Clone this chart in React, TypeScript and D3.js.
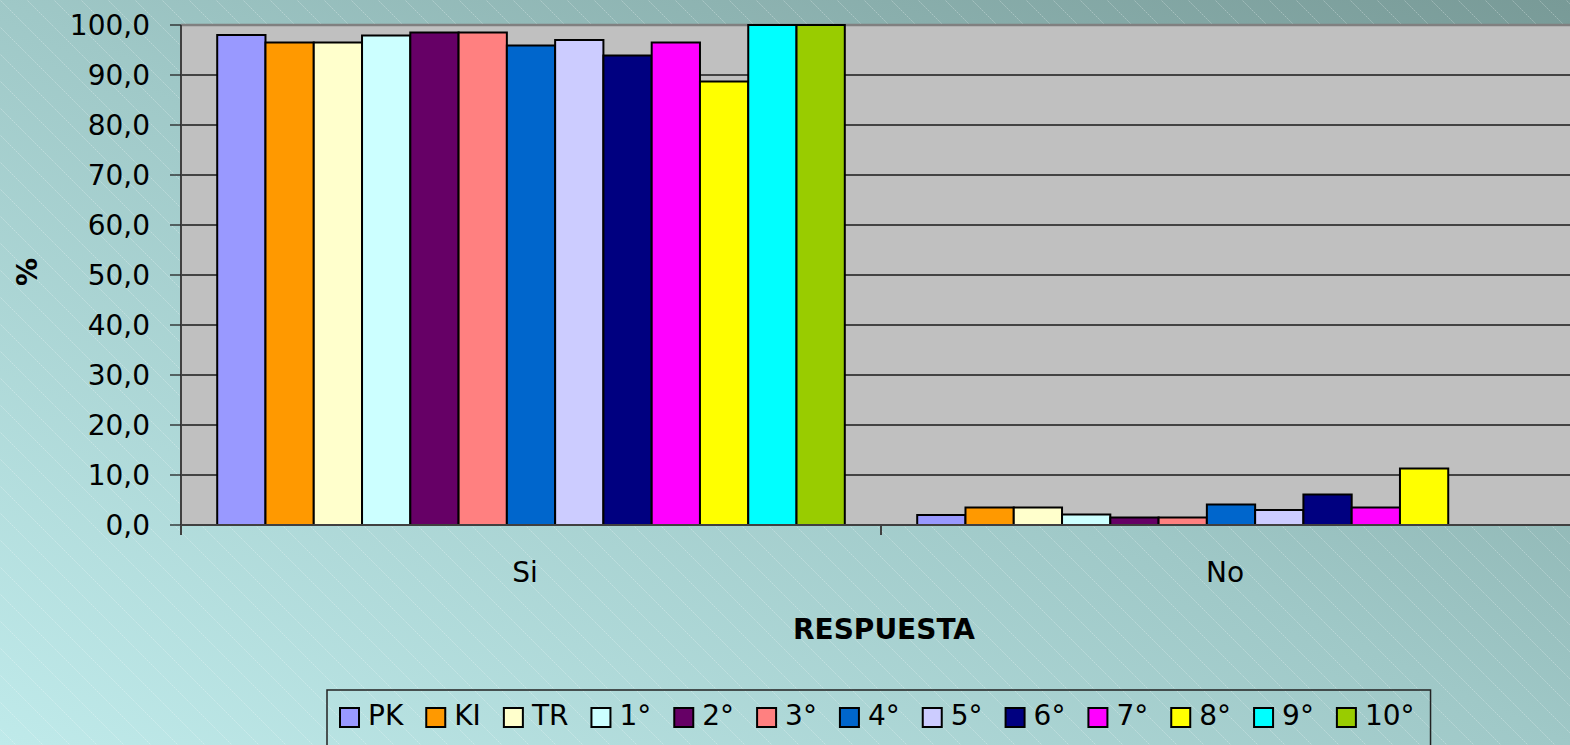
import React, { useEffect, useRef } from "react";
import * as d3 from "d3";

const categories = ["Si", "No"];
const seriesNames = ["PK", "KI", "TR", "1°", "2°", "3°", "4°", "5°", "6°", "7°", "8°", "9°", "10°"];
const seriesColors = ["#9999FF", "#FF9900", "#FFFFCC", "#CCFFFF", "#660066", "#FF8080", "#0066CC", "#CCCCFF", "#000080", "#FF00FF", "#FFFF00", "#00FFFF", "#99CC00"];
const siValues = [98.0, 96.5, 96.5, 97.9, 98.5, 98.5, 95.9, 97.0, 93.9, 96.5, 88.7, 100.0, 100.0];
const noValues = [2.0, 3.5, 3.5, 2.1, 1.5, 1.5, 4.1, 3.0, 6.1, 3.5, 11.3, 0.0, 0.0];
const yTicks = [0, 10, 20, 30, 40, 50, 60, 70, 80, 90, 100];
const yTitle = "%";
const xTitle = "RESPUESTA";

const W = 1570;
const H = 745;
const FONT = "'DejaVu Sans', Verdana, sans-serif";

export default function App() {
  const ref = useRef<SVGSVGElement | null>(null);

  useEffect(() => {
    const svg = d3.select(ref.current);
    svg.selectAll("*").remove();

    const margin = { left: 181, top: 25, right: -11, bottom: 220 };
    const plotW = 1400;
    const plotH = H - margin.top - margin.bottom;

    const defs = svg.append("defs");
    const grad = defs.append("linearGradient").attr("id", "bg").attr("x1", 0).attr("y1", 1).attr("x2", 1).attr("y2", 0);
    grad.append("stop").attr("offset", 0).attr("stop-color", "#bfeaea");
    grad.append("stop").attr("offset", 0.5).attr("stop-color", "#9fc8c7");
    grad.append("stop").attr("offset", 1).attr("stop-color", "#789a97");
    const pat = defs.append("pattern").attr("id", "stripes").attr("patternUnits", "userSpaceOnUse")
      .attr("width", 27).attr("height", 27);
    pat.append("path").attr("d", "M-1,-1 L28,28 M-28,0 L0,28 M0,-27 L28,1")
      .attr("stroke", "rgba(255,255,255,0.28)").attr("stroke-width", 1).attr("stroke-dasharray", "2,1");

    svg.append("rect").attr("width", W).attr("height", H).attr("fill", "url(#bg)");
    svg.append("rect").attr("width", W).attr("height", H).attr("fill", "url(#stripes)");

    const data = categories.map((c, ci) => ({ cat: c, vals: ci === 0 ? siValues : noValues }));

    const x0 = d3.scaleBand<string>().domain(categories).range([margin.left, margin.left + plotW]).paddingInner(0).paddingOuter(0);
    const x1 = d3.scaleBand<string>().domain(seriesNames).range([0, x0.bandwidth()]).paddingInner(0).paddingOuter(0.75);
    const y = d3.scaleLinear().domain([0, 100]).range([margin.top + plotH, margin.top]);

    // plot area
    svg.append("rect").attr("x", margin.left).attr("y", margin.top).attr("width", plotW).attr("height", plotH).attr("fill", "#c0c0c0");

    // gridlines
    svg.append("g").selectAll("line").data(yTicks.filter((t) => t > 0 && t < 100)).join("line")
      .attr("x1", margin.left).attr("x2", margin.left + plotW)
      .attr("y1", (d) => y(d)).attr("y2", (d) => y(d))
      .attr("stroke", "#1a1a1a").attr("stroke-width", 1.4);
    svg.append("line").attr("x1", margin.left).attr("x2", margin.left + plotW).attr("y1", y(100)).attr("y2", y(100))
      .attr("stroke", "#808080").attr("stroke-width", 2.5);

    // bars
    const g = svg.append("g");
    data.forEach((d) => {
      g.selectAll(null).data(d.vals.map((v, i) => ({ v, i })).filter((e) => e.v > 0)).join("rect")
        .attr("x", (e) => (x0(d.cat) as number) + (x1(seriesNames[e.i]) as number))
        .attr("y", (e) => y(e.v))
        .attr("width", x1.bandwidth())
        .attr("height", (e) => y(0) - y(e.v))
        .attr("fill", (e) => seriesColors[e.i])
        .attr("stroke", "#000").attr("stroke-width", 2);
    });

    // axes lines
    svg.append("line").attr("x1", margin.left).attr("x2", margin.left).attr("y1", margin.top).attr("y2", y(0) + 10)
      .attr("stroke", "#404040").attr("stroke-width", 2);
    svg.append("line").attr("x1", margin.left).attr("x2", margin.left + plotW).attr("y1", y(0)).attr("y2", y(0))
      .attr("stroke", "#404040").attr("stroke-width", 2);
    // y ticks
    svg.append("g").selectAll("line").data(yTicks).join("line")
      .attr("x1", margin.left - 11).attr("x2", margin.left).attr("y1", (d) => y(d)).attr("y2", (d) => y(d))
      .attr("stroke", "#222").attr("stroke-width", 1.3);
    // category ticks
    const catEdges = [margin.left, margin.left + x0.bandwidth(), margin.left + plotW];
    svg.append("g").selectAll("line").data(catEdges).join("line")
      .attr("x1", (d) => d).attr("x2", (d) => d).attr("y1", y(0)).attr("y2", y(0) + 10)
      .attr("stroke", "#404040").attr("stroke-width", 2);

    // y labels
    const fmt = (v: number) => v.toFixed(1).replace(".", ",");
    svg.append("g").selectAll("text").data(yTicks).join("text")
      .attr("x", 150).attr("y", (d) => y(d)).attr("dy", "0.36em")
      .attr("text-anchor", "end").attr("font-family", FONT).attr("font-size", 28).attr("fill", "#000")
      .text((d) => fmt(d));

    // category labels
    svg.append("g").selectAll("text").data(categories).join("text")
      .attr("x", (d) => (x0(d) as number) + x0.bandwidth() / 2 - 6).attr("y", 582)
      .attr("text-anchor", "middle").attr("font-family", FONT).attr("font-size", 28).attr("fill", "#000")
      .text((d) => d);

    // titles
    svg.append("text").attr("x", margin.left + plotW / 2 + 3).attr("y", 639)
      .attr("text-anchor", "middle").attr("font-family", FONT).attr("font-size", 28).attr("font-weight", "bold")
      .text(xTitle);
    svg.append("text").attr("transform", "translate(37,272) rotate(-90)")
      .attr("text-anchor", "middle").attr("font-family", FONT).attr("font-size", 28).attr("font-weight", "bold")
      .text(yTitle);

    // legend
    const lg = svg.append("g");
    const box = lg.append("rect").attr("x", 327).attr("y", 690).attr("height", 80).attr("fill", "none")
      .attr("stroke", "#222").attr("stroke-width", 1.5);
    let cx = 340;
    const sw = 19;
    seriesNames.forEach((name, i) => {
      lg.append("rect").attr("x", cx).attr("y", 708).attr("width", sw).attr("height", sw)
        .attr("fill", seriesColors[i]).attr("stroke", "#000").attr("stroke-width", 2);
      const t = lg.append("text").attr("x", cx + sw + 9).attr("y", 725)
        .attr("font-family", FONT).attr("font-size", 28).attr("fill", "#000").text(name);
      const tw = (t.node() as SVGTextElement).getComputedTextLength();
      cx = cx + sw + 9 + tw + (i < seriesNames.length - 1 ? 23 : 0);
    });
    box.attr("width", cx + 16 - 327);
  }, []);

  return (
    <div style={{ position: "fixed", left: 0, top: 0, width: W, height: H, overflow: "hidden" }}>
      <svg ref={ref} width={W} height={H} style={{ display: "block" }} />
    </div>
  );
}
